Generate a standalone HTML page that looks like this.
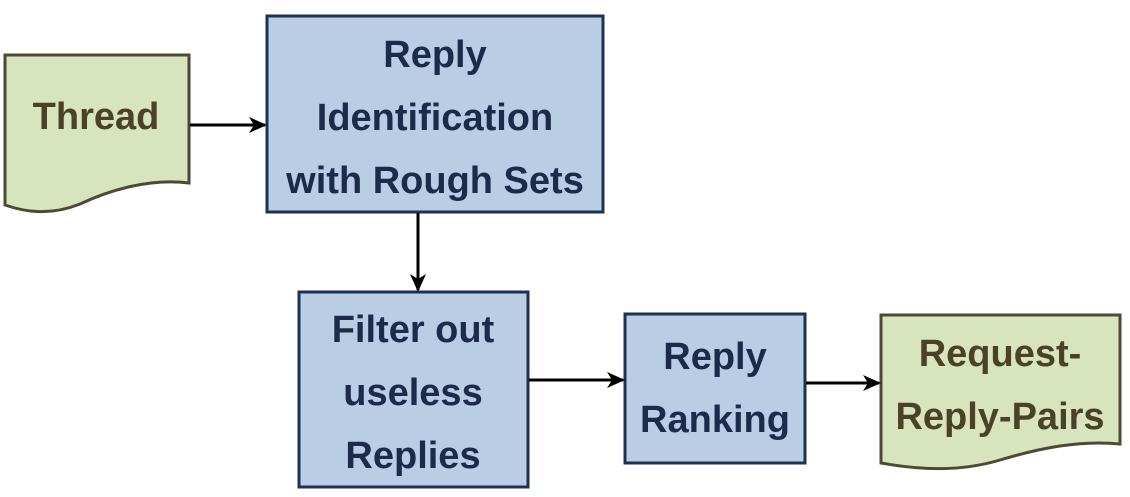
<!DOCTYPE html>
<html><head><style>
html,body{margin:0;padding:0;background:#fff;width:1130px;height:497px;overflow:hidden}
svg{display:block}
text{font-family:"Liberation Sans",sans-serif;font-weight:bold;font-size:38px;text-anchor:middle}
.b{fill:#1c2b4a}.g{fill:#4a4228}
</style></head><body>
<svg width="1130" height="497" viewBox="0 0 1130 497">
<defs><marker id="a" markerWidth="18" markerHeight="16" refX="16" refY="8" orient="auto" markerUnits="userSpaceOnUse"><path d="M0,0 L18,8 L0,16 L5,8 Z" fill="#000"/></marker></defs>
<path d="M5,55 L189,55 L189,183 C150,178 110,190 80,204 C50,216 25,212 5,205 Z" fill="#d7e4bd" stroke="#4d4a34" stroke-width="3"/>
<text class="g" x="96" y="129">Thread</text>
<rect x="267" y="16" width="336" height="196" fill="#b9cde5" stroke="#1e3150" stroke-width="3"/>
<text class="b" x="435" y="67">Reply</text>
<text class="b" x="435" y="130">Identification</text>
<text class="b" x="435" y="193">with Rough Sets</text>
<rect x="299" y="292" width="229" height="195" fill="#b9cde5" stroke="#1e3150" stroke-width="3"/>
<text class="b" x="413" y="342">Filter out</text>
<text class="b" x="413" y="405">useless</text>
<text class="b" x="413" y="468">Replies</text>
<rect x="625" y="314" width="180" height="149" fill="#b9cde5" stroke="#1e3150" stroke-width="3"/>
<text class="b" x="715" y="369">Reply</text>
<text class="b" x="715" y="432">Ranking</text>
<path d="M881,315 L1120,315 L1120,444 C1080,440 1040,448 1000,460 C960,472 920,470 881,463 Z" fill="#d7e4bd" stroke="#4d4a34" stroke-width="3"/>
<text class="g" x="1000" y="366">Request-</text>
<text class="g" x="1000" y="429">Reply-Pairs</text>
<g stroke="#000" stroke-width="3" fill="none">
<line x1="190" y1="125" x2="265" y2="125" marker-end="url(#a)"/>
<line x1="418" y1="213" x2="418" y2="290" marker-end="url(#a)"/>
<line x1="529" y1="380" x2="623" y2="380" marker-end="url(#a)"/>
<line x1="806" y1="383" x2="879" y2="383" marker-end="url(#a)"/>
</g>
</svg>
</body></html>
